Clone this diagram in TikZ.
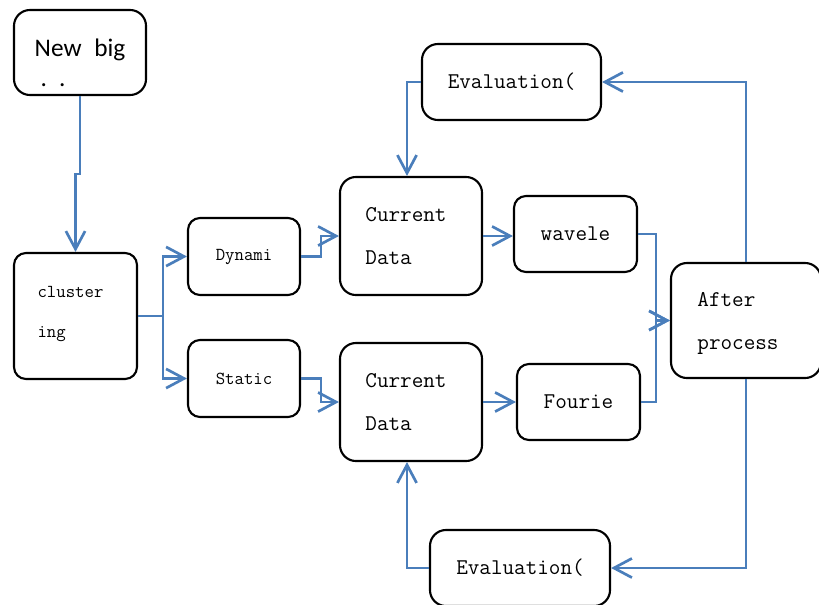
\documentclass[tikz,border=0pt]{standalone}
\usepackage{fontspec}
\newfontfamily\calibrifont{Carlito}
\usetikzlibrary{arrows.meta, calc}
\definecolor{linkblue}{RGB}{74,126,187}
\tikzset{
    my-box/.style={
      draw, line width=1.5pt, rounded corners=4mm, align=left, inner sep=0pt,
      font=\ttfamily\fontsize{16}{30}\selectfont
    },
    my-small-box/.style={
      my-box, rounded corners=3mm, font=\ttfamily\fontsize{13}{28}\selectfont
    },
    my-wire/.style={
      draw=linkblue, line width=1.9pt
    },
    my-link/.style={
      my-wire, -{Straight Barb[length=4.5mm, width=4.8mm, line width=1.9pt]}
    },
}
\begin{document}
\begin{tikzpicture}[x=0.025cm, y=-0.025cm]
        \useasboundingbox (0,0) rectangle (819,604);

        % INPUT AND CLUSTERING
        \node[my-box, minimum width=3.3cm, minimum height=2.125cm,
              font=\calibrifont\fontsize{18}{21}\selectfont]
                                (NEWBIG)  at (80,52.5)   {\rule{0pt}{9.5mm}New\enspace big\\\hspace*{1.5mm}.\hspace{3mm}.};
        \node[my-small-box, minimum width=3.075cm, minimum height=3.15cm]
                                (CLUSTER) at (75.5,316)  {cluster\hspace*{2.5mm}\\ing\rule[-2mm]{0pt}{2mm}};

        % SPLIT
        \node[my-small-box, minimum width=2.8cm, minimum height=1.925cm]
                                (DYNAMIC) at (244,256.5) {Dynami};
        \node[my-small-box, minimum width=2.8cm, minimum height=1.925cm]
                                (STATIC)  at (244,378.5) {Static};

        % CURRENT DATA
        \node[my-box, minimum width=3.55cm, minimum height=2.95cm]
                                (CURTOP)  at (411,236)   {Current\hspace*{2.5mm}\\Data};
        \node[my-box, minimum width=3.55cm, minimum height=2.95cm]
                                (CURBOT)  at (411,402)   {Current\hspace*{2.5mm}\\Data};

        % TRANSFORMS
        \node[my-box, rounded corners=3mm, minimum width=3.075cm, minimum height=1.9cm]
                                (WAVELET) at (575.5,234) {wavele};
        \node[my-box, rounded corners=3mm, minimum width=3.075cm, minimum height=1.9cm]
                                (FOURIER) at (578.5,402) {Fourie};

        % AFTER PROCESS AND EVALUATION
        \node[my-box, minimum width=3.75cm, minimum height=2.875cm]
                                (AFTER)   at (746,320.5) {\rule{0pt}{5mm}After\\process\hspace*{4mm}};
        \node[my-box, minimum width=4.475cm, minimum height=1.9cm]
                                (EVALTOP) at (511.5,82)  {Evaluation(};
        \node[my-box, minimum width=4.5cm, minimum height=1.9cm]
                                (EVALBOT) at (520,568)   {Evaluation(};

        % INPUT CONNECTIONS
        \draw[my-link] (NEWBIG.south) -- ++(0,78) -| (CLUSTER.north);
        \draw[my-link] (CLUSTER.east) -- ++(25,0) |- (DYNAMIC.west);
        \draw[my-link] (CLUSTER.east) -- ++(25,0) |- (STATIC.west);
        \draw[my-link] (DYNAMIC.east) -- ++(20,0) |- (CURTOP.west);
        \draw[my-link] (STATIC.east)  -- ++(20,0) |- (CURBOT.west);

        % TRANSFORM CONNECTIONS
        \draw[my-link] (CURTOP.east) -- (CURTOP.east -| WAVELET.west);
        \draw[my-link] (CURBOT.east) -- (CURBOT.east -| FOURIER.west);
        \draw[my-link] (WAVELET.east) -- ++(18,0) |- (AFTER.west);
        \draw[my-link] (FOURIER.east) -- ++(15,0) |- (AFTER.west);

        % FEEDBACK LOOPS
        \draw[my-link] (AFTER.north) |- (EVALTOP.east);
        \draw[my-link] (EVALTOP.west) -| ($(CURTOP.north) + (-4,0)$);
        \draw[my-link] (AFTER.south) |- (EVALBOT.east);
        \draw[my-link] (EVALBOT.west) -| ($(CURBOT.south) + (-4,0)$);

\end{tikzpicture}
\end{document}
